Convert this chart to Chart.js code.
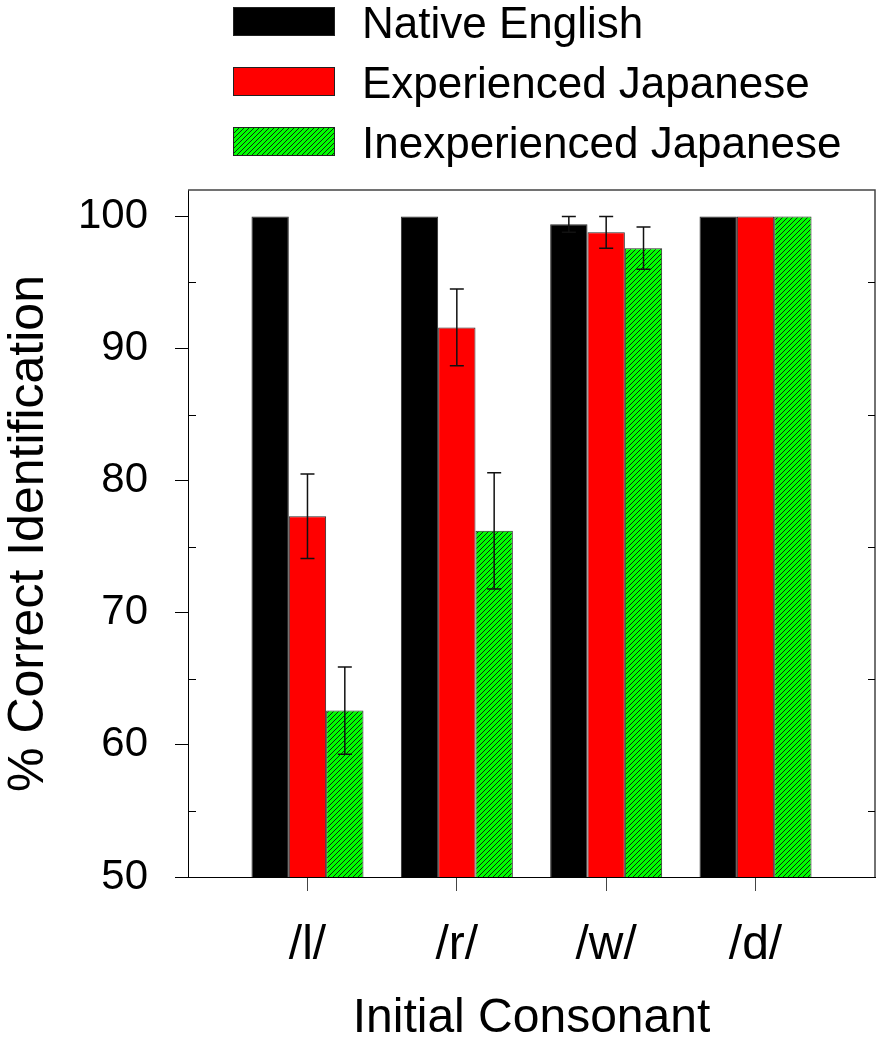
<!DOCTYPE html>
<html>
<head>
<meta charset="utf-8">
<script src="https://cdn.jsdelivr.net/npm/chart.js@4/dist/chart.umd.min.js"></script>
<style>
  html, body { margin: 0; padding: 0; background: #fff; }
  #wrap { position: relative; width: 877px; height: 1044px; }
  #legend { position: absolute; left: 233px; top: 0; font-family: "Liberation Sans", Arial, sans-serif; font-size: 44px; color: #000; }
  .row { position: absolute; left: 0; display: flex; align-items: center; white-space: nowrap; height: 29px; }
  .swatch { width: 102px; height: 29px; border: 1px solid #222; box-sizing: border-box; flex: none; }
  .lbl { margin-left: 27px; line-height: 1; position: relative; top: 1px; }
</style>
</head>
<body>
<div id="wrap">
  <canvas id="chart"></canvas>
  <div id="legend"></div>
</div>
<script>
// Consonant categories along the x axis
const categories = ['/l/', '/r/', '/w/', '/d/'];

// Mean percent correct identification per listener group
const nativeEnglish = [100, 100, 99.4, 100];
const experiencedJapanese = [77.3, 91.6, 98.8, 100];
const inexperiencedJapanese = [62.6, 76.2, 97.6, 100];

// Standard error for each mean
const nativeEnglishErr = [0, 0, 0.6, 0];
const experiencedJapaneseErr = [3.2, 2.9, 1.2, 0];
const inexperiencedJapaneseErr = [3.3, 4.4, 1.6, 0];

// Y axis tick values
const yMajorTicks = [50, 60, 70, 80, 90, 100];
const yMinorTicks = [55, 65, 75, 85, 95];

const FONT = '"Liberation Sans", Arial, sans-serif';

// Diagonal hatch fill for the third group
function makeHatch() {
  const c = document.createElement('canvas');
  c.width = 5; c.height = 5;
  const g = c.getContext('2d');
  g.fillStyle = '#00ff00';
  g.fillRect(0, 0, 5, 5);
  g.strokeStyle = '#111';
  g.lineWidth = 0.9;
  g.beginPath();
  g.moveTo(-1, 6); g.lineTo(6, -1);
  g.moveTo(-1, 1); g.lineTo(1, -1);
  g.moveTo(4, 6); g.lineTo(6, 4);
  g.stroke();
  return c;
}
const hatchCanvas = makeHatch();
const hatch = document.createElement('canvas').getContext('2d').createPattern(hatchCanvas, 'repeat');

const toPoints = vals => vals.map((v, i) => ({ x: i + 1, y: v }));

const datasets = [
  { label: 'Native English', data: toPoints(nativeEnglish), errors: nativeEnglishErr,
    backgroundColor: '#000000', swatch: '#000000' },
  { label: 'Experienced Japanese', data: toPoints(experiencedJapanese), errors: experiencedJapaneseErr,
    backgroundColor: '#ff0000', swatch: '#ff0000' },
  { label: 'Inexperienced Japanese', data: toPoints(inexperiencedJapanese), errors: inexperiencedJapaneseErr,
    backgroundColor: hatch, swatch: 'hatch' }
].map(d => Object.assign(d, {
  borderColor: '#2a2a2a', borderWidth: 1, borderSkipped: false,
  categoryPercentage: 0.75, barPercentage: 1
}));

// Error bars with caps, drawn from each bar's value and its error
const errorBars = {
  id: 'errorBars',
  afterDatasetsDraw(chart) {
    const ctx = chart.ctx, y = chart.scales.y;
    ctx.save();
    ctx.strokeStyle = '#111';
    ctx.lineWidth = 1.5;
    chart.data.datasets.forEach((ds, di) => {
      const meta = chart.getDatasetMeta(di);
      meta.data.forEach((bar, i) => {
        const err = ds.errors[i];
        if (!err) return;
        const v = ds.data[i].y;
        const top = y.getPixelForValue(v + err);
        const bot = y.getPixelForValue(v - err);
        const half = 7;
        ctx.beginPath();
        ctx.moveTo(bar.x, top); ctx.lineTo(bar.x, bot);
        ctx.moveTo(bar.x - half, top); ctx.lineTo(bar.x + half, top);
        ctx.moveTo(bar.x - half, bot); ctx.lineTo(bar.x + half, bot);
        ctx.stroke();
      });
    });
    ctx.restore();
  }
};

// Closing frame (top and right) plus inward minor ticks on both sides
const frame = {
  id: 'frame',
  afterDraw(chart) {
    const { ctx, chartArea: a } = chart;
    const y = chart.scales.y;
    ctx.save();
    ctx.strokeStyle = '#444';
    ctx.lineWidth = 1.5;
    ctx.beginPath();
    ctx.moveTo(a.left, a.top); ctx.lineTo(a.right, a.top); ctx.lineTo(a.right, a.bottom);
    ctx.stroke();
    ctx.strokeStyle = '#000';
    ctx.lineWidth = 1;
    ctx.beginPath();
    yMinorTicks.forEach(v => {
      const py = Math.round(y.getPixelForValue(v)) + 0.5;
      ctx.moveTo(a.left, py); ctx.lineTo(a.left + 8, py);
      ctx.moveTo(a.right, py); ctx.lineTo(a.right - 7, py);
    });
    ctx.stroke();
    ctx.restore();
  }
};

const chart = new Chart(document.getElementById('chart'), {
  type: 'bar',
  data: { datasets },
  options: {
    responsive: true,
    maintainAspectRatio: false,
    animation: false,
    layout: { padding: { top: 190, right: 2, left: 0, bottom: 0 } },
    plugins: { legend: { display: false }, tooltip: { enabled: false } },
    scales: {
      x: {
        type: 'linear',
        min: 0.2,
        max: 4.8,
        offset: false,
        grid: { offset: false, drawOnChartArea: false, drawTicks: true, tickLength: 14, color: '#444', lineWidth: 1 },
        border: { display: true, color: '#000', width: 1 },
        afterBuildTicks: s => { s.ticks = categories.map((c, i) => ({ value: i + 1 })); },
        afterFit: s => { s.height = 167; },
        ticks: {
          callback: v => categories[v - 1],
          font: { family: FONT, size: 48 },
          color: '#000',
          padding: 26,
          maxRotation: 0,
          autoSkip: false
        },
        title: {
          display: true,
          text: 'Initial Consonant',
          font: { family: FONT, size: 48, lineHeight: 1 },
          color: '#000',
          padding: { top: 0, bottom: 1 }
        }
      },
      y: {
        min: 50,
        max: 102,
        grid: { drawOnChartArea: false, drawTicks: true, tickLength: 13, color: '#000', lineWidth: 1 },
        border: { display: true, color: '#000', width: 1 },
        afterBuildTicks: s => { s.ticks = yMajorTicks.map(v => ({ value: v })); },
        afterFit: s => { s.width = 188; },
        ticks: {
          font: { family: FONT, size: 42 },
          color: '#000',
          padding: 27
        },
        title: {
          display: true,
          text: '% Correct Identification',
          font: { family: FONT, size: 50, lineHeight: 1 },
          color: '#000',
          padding: { top: 4, bottom: 0 }
        }
      }
    }
  },
  plugins: [errorBars, frame]
});

// Legend stacked at the top, built from the datasets
const legend = document.getElementById('legend');
chart.data.datasets.forEach((ds, i) => {
  const row = document.createElement('div');
  row.className = 'row';
  row.style.top = (7 + i * 60) + 'px';
  const sw = document.createElement('div');
  sw.className = 'swatch';
  if (ds.swatch === 'hatch') {
    sw.style.backgroundImage = 'url(' + hatchCanvas.toDataURL() + ')';
  } else {
    sw.style.background = ds.swatch;
  }
  const t = document.createElement('span');
  t.className = 'lbl';
  t.textContent = ds.label;
  row.appendChild(sw);
  row.appendChild(t);
  legend.appendChild(row);
});
</script>
</body>
</html>
